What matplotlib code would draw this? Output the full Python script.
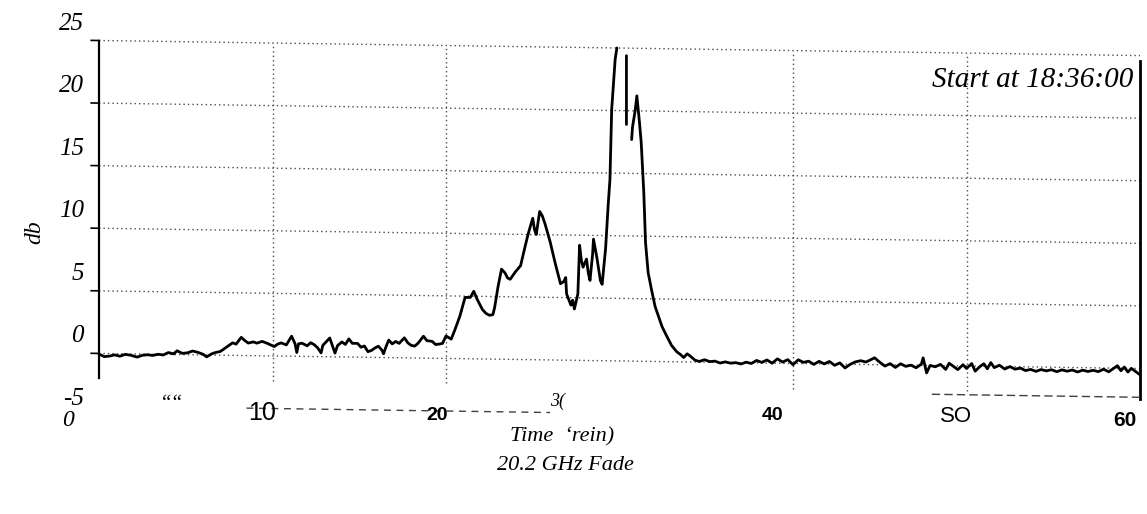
import numpy as np
import matplotlib
matplotlib.use("Agg")
import matplotlib.pyplot as plt
from matplotlib import transforms

# 20.2 GHz fade record, time in minutes after start, attenuation in dB
time_min = [
    0.0, 0.3, 0.6, 0.9, 1.2, 1.5, 1.8, 2.2, 2.5, 2.8, 3.1, 3.4, 3.7, 4.0, 4.3,
    4.5, 4.8, 5.1, 5.4, 5.7, 6.0, 6.2, 6.5, 6.7, 7.0, 7.3, 7.5, 7.7, 7.9, 8.2,
    8.4, 8.6, 8.9, 9.1, 9.4, 9.7, 10.1, 10.3, 10.5, 10.8, 11.1, 11.3, 11.4,
    11.5, 11.7, 12.0, 12.2, 12.4, 12.6, 12.8, 12.9, 13.1, 13.3, 13.45, 13.6,
    13.75, 14.0, 14.2, 14.4, 14.6, 14.9, 15.1, 15.3, 15.5, 15.7, 15.9, 16.1,
    16.3, 16.4, 16.55, 16.7, 16.9, 17.1, 17.3, 17.6, 17.8, 18.0, 18.2, 18.4,
    18.7, 18.9, 19.2, 19.4, 19.65, 19.8, 20.0,
    20.3, 20.5, 20.8, 21.1, 21.4, 21.6, 21.8, 22.1, 22.3, 22.5, 22.7, 22.8,
    23.0, 23.2, 23.4, 23.55, 23.7, 24.0, 24.3, 24.45, 24.7, 24.85, 25.0, 25.1,
    25.2, 25.4, 25.55, 25.7, 26.0, 26.3, 26.6, 26.8, 26.9, 26.95, 27.2, 27.3,
    27.4, 27.6, 27.7, 27.8, 27.9, 28.1, 28.2, 28.3, 28.45, 28.5, 28.7, 28.9,
    29.0, 29.2, 29.35, 29.45, 29.55, 29.75, 29.85,
    np.nan, 30.4, 30.4, np.nan,
    30.7, 30.75, 30.9, 31.0, 31.15, 31.25, 31.4, 31.5, 31.65, 31.85, 32.05,
    32.25, 32.45, 32.7, 33.0, 33.3, 33.5, 33.7, 33.9, 34.1, 34.35,
    34.6, 34.9, 35.2, 35.5, 35.8, 36.1, 36.4, 36.7, 37.0, 37.3, 37.6, 37.9,
    38.2, 38.5, 38.8, 39.1, 39.4, 39.7, 40.0, 40.3, 40.6, 40.9, 41.2, 41.5,
    41.8, 42.1, 42.4, 42.7, 43.0, 43.3, 43.6, 43.9, 44.2, 44.5, 44.7, 45.0,
    45.3, 45.6, 45.9, 46.2, 46.5, 46.8, 47.1, 47.4, 47.5, 47.7, 47.9, 48.2,
    48.5, 48.8, 49.0, 49.2, 49.5, 49.8, 50.0, 50.3, 50.5, 50.8, 51.0, 51.2,
    51.4, 51.6, 51.9, 52.2, 52.5, 52.8, 53.1, 53.4, 53.7, 54.0, 54.3, 54.6,
    54.9, 55.2, 55.5, 55.8, 56.1, 56.4, 56.7, 57.0, 57.3, 57.6, 57.9, 58.2,
    58.5, 58.7, 58.9, 59.1, 59.3, 59.5, 59.7, 60.0,
]
fade_db = [
    -0.05, -0.25, -0.2, -0.1, -0.2, -0.05, -0.1, -0.25, -0.1, -0.05, -0.1,
    0.0, -0.05, 0.15, 0.05, 0.3, 0.1, 0.15, 0.3, 0.2, 0.05, -0.15, 0.1, 0.2,
    0.3, 0.6, 0.8, 1.0, 0.9, 1.45, 1.2, 1.0, 1.1, 1.0, 1.15, 1.0, 0.75, 0.95,
    1.05, 0.9, 1.6, 1.0, 0.3, 1.0, 1.05, 0.85, 1.1, 0.95, 0.7, 0.3, 0.9, 1.2,
    1.5, 0.9, 0.3, 0.9, 1.2, 1.0, 1.45, 1.1, 1.1, 0.8, 0.9, 0.45, 0.55, 0.75,
    0.9, 0.6, 0.3, 0.9, 1.4, 1.1, 1.3, 1.15, 1.6, 1.2, 1.0, 0.95, 1.2, 1.75,
    1.4, 1.35, 1.1, 1.15, 1.2, 1.8,
    1.55, 2.25, 3.4, 4.9, 4.9, 5.4, 4.75, 3.95, 3.65, 3.5, 3.55, 4.1, 5.8,
    7.2, 6.9, 6.5, 6.4, 7.0, 7.5, 8.4, 9.85, 10.6, 11.3, 10.4, 10.0, 11.85,
    11.5, 10.9, 9.45, 7.7, 6.1, 6.3, 6.6, 5.3, 4.4, 4.8, 4.1, 5.3, 9.2, 8.0,
    7.45, 8.1, 7.0, 6.4, 8.5, 9.7, 8.2, 6.4, 6.1, 9.0, 12.5, 14.5, 20.1,
    24.1, 25.0,
    np.nan, 24.4, 18.9, np.nan,
    17.7, 18.7, 20.0, 21.2, 19.1, 17.5, 13.5, 9.5, 7.1, 5.7, 4.4, 3.6, 2.8,
    2.1, 1.3, 0.8, 0.6, 0.35, 0.65, 0.45, 0.15,
    0.05, 0.2, 0.05, 0.1, -0.05, 0.05, -0.05, 0.0, -0.1, 0.05, -0.05,
    0.2, 0.05, 0.25, 0.0, 0.35, 0.1, 0.3, -0.1, 0.3, 0.1, 0.2, -0.05,
    0.2, 0.0, 0.2, -0.1, 0.1, -0.3, 0.0, 0.2, 0.3, 0.2, 0.4, 0.55,
    0.2, -0.1, 0.1, -0.2, 0.1, -0.1, 0.0, -0.2, 0.1, 0.6, -0.6, 0.0,
    -0.1, 0.1, -0.3, 0.2, 0.0, -0.3, 0.1, -0.2, 0.2, -0.4, 0.0, 0.2,
    -0.2, 0.3, -0.1, 0.1, -0.2, 0.0, -0.2, -0.1, -0.3, -0.2, -0.35, -0.2,
    -0.3, -0.2, -0.35, -0.2, -0.3, -0.2, -0.35, -0.2, -0.3, -0.2, -0.3, -0.1,
    -0.3, 0.0, 0.2, -0.2, 0.1, -0.3, 0.0, -0.2, -0.5,
]

y_ticks = [25, 20, 15, 10, 5, 0, -5]
y_tick_labels = ["25", "20", "15", "10", "5", "0", "-5"]
h_grid = [0, 5, 10, 15, 20, 25]
v_grid = [10, 20, 40, 50]
x_tick_labels = ["0", "\u201c\u201c", "10", "20", "3(", "40", "SO", "60"]

x_label_text = "Time  \u2018rein)"
title_text = "20.2 GHz Fade"
y_label_text = "db"
note_text = "Start at 18:36:00"

W, H, DPI = 1147, 514, 100
SERIF = "Liberation Serif"
NARROW = ["Liberation Sans Narrow", "Liberation Sans"]
SANS = "Liberation Sans"

# x position (minutes), pixel row, font family, size, weight, style
x_label_style = [
    (-1.8, 421, SERIF, 17, "normal", "italic"),
    (4.2, 405, SERIF, 15, "normal", "italic"),
    (9.4, 413, NARROW, 18, "normal", "normal"),
    (19.5, 416, SANS, 14, "bold", "normal"),
    (26.4, 401, SERIF, 13, "normal", "italic"),
    (38.8, 416, SANS, 14, "bold", "normal"),
    (49.4, 416, NARROW, 16, "normal", "normal"),
    (59.1, 420, NARROW, 15, "bold", "normal"),
]

plt.rcParams["font.family"] = SERIF

fig = plt.figure(figsize=(W / DPI, H / DPI), dpi=DPI)
fig.patch.set_facecolor("white")
ax_top, ax_bot, ax_left, ax_right = 40.5, 416.0, 99.0, 1140.0
ax = fig.add_axes([ax_left / W, (H - ax_bot) / H,
                   (ax_right - ax_left) / W, (ax_bot - ax_top) / H])
ax.set_xlim(0, 60)
ax.set_ylim(-5, 25)
ax.axis("off")

# the recorder sheet sits slightly askew: horizontal rules drop to the right
tilt = (transforms.Affine2D()
        .translate(-ax_left, -(H - ax_top))
        .skew_deg(0, -0.83)
        .translate(ax_left, H - ax_top))
T = ax.transData + tilt

grid_kw = dict(color="0.3", lw=1.0, ls=(0, (1, 2.2)), transform=T, clip_on=False)
for v in h_grid:
    ax.plot([0, 60], [v, v], **grid_kw)
for v in v_grid:
    ax.plot([v, v], [-2.0, 25], **grid_kw)

for v in h_grid:
    ax.plot([-0.45, 0], [v, v], color="k", lw=1.2, transform=T, clip_on=False)

ax.plot([0, 0], [25, -2.0], color="k", lw=1.6, transform=T, clip_on=False)
ax.plot([60, 60], [24.6, -2.4], color="k", lw=2.0, transform=T, clip_on=False)
ax.plot([8.5, 26], [-4.2, -4.2], color="0.25", lw=1.0, ls=(0, (5, 4)),
        transform=T, clip_on=False)
ax.plot([48, 60], [-2.3, -2.3], color="0.25", lw=1.0, ls=(0, (6, 3)),
        transform=T, clip_on=False)

ax.plot(time_min, fade_db, color="k", lw=2.0, transform=T, clip_on=False,
        solid_joinstyle="round", solid_capstyle="round")

# y tick labels sit a little above their rules
ylab_tr = transforms.offset_copy(ax.transData, fig=fig, x=-15, y=17, units="dots")
for v, lab in zip(y_ticks, y_tick_labels):
    ax.text(0, v, lab, transform=ylab_tr, ha="right", va="center",
            fontsize=18, style="italic", family=SERIF)

xl_tr = transforms.blended_transform_factory(ax.transData, fig.transFigure)
for lab, (xp, yp, fam, fs, fw, fst) in zip(x_tick_labels, x_label_style):
    ax.text(xp, (H - yp) / H, lab, transform=xl_tr, ha="center", va="center",
            family=fam, fontsize=fs, fontweight=fw, style=fst)

fig.text(562 / W, (H - 437) / H, x_label_text, ha="center", va="center",
         fontsize=16, style="italic", family=SERIF)
fig.text(565 / W, (H - 466) / H, title_text, ha="center", va="center",
         fontsize=16, style="italic", family=SERIF)
fig.text(35 / W, (H - 232) / H, y_label_text, ha="center", va="center",
         rotation=90, fontsize=17, style="italic", family=SERIF)
fig.text(1133 / W, (H - 80) / H, note_text, ha="right", va="center",
         fontsize=21, style="italic", family=SERIF)

fig.savefig("out.png", dpi=DPI, facecolor="white")
